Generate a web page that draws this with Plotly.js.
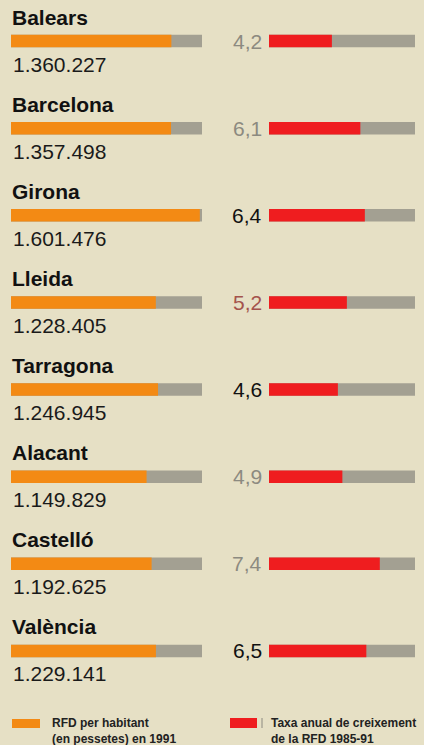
<!DOCTYPE html>
<html><head><meta charset="utf-8">
<script src="https://cdn.plot.ly/plotly-3.0.1.min.js"></script>
<style>html,body{margin:0;padding:0;background:#e6e0c5}</style>
</head><body><div id="chart" style="width:424px;height:745px"></div>
<script>
// ---- data ----
const regions = ["Balears","Barcelona","Girona","Lleida","Tarragona","Alacant","Castelló","València"];
const rfdPerHabitant = [1360227,1357498,1601476,1228405,1246945,1149829,1192625,1229141];
const rfdLabels = ["1.360.227","1.357.498","1.601.476","1.228.405","1.246.945","1.149.829","1.192.625","1.229.141"];
const growthRate = [4.2,6.1,6.4,5.2,4.6,4.9,7.4,6.5];
const growthLabels = ["4,2","6,1","6,4","5,2","4,6","4,9","7,4","6,5"];
const growthLabelColors = ["#8c8a80","#8c8a80","#111111","#a4534c","#111111","#8c8a80","#8c8a80","#111111"];
const rfdTrackMax = 1620000;
const growthTrackMax = 9.75;
const legendLabels = ["RFD per habitant<br>(en pessetes) en 1991","Taxa anual de creixement<br>de la RFD 1985-91"];

// ---- style ----
const W = 424, H = 745;
const BG = "#e6e0c5", ORANGE = "#f38a14", RED = "#ef1d1f", TRACK = "#a3a092";
const pitch = 87.14, firstCenter = 41;
const barW = 12.5 / pitch;
const idx = regions.map((_, i) => i);
const py = p => 1 - p / H;
const FONT = "Liberation Sans, Arial, sans-serif";

const traces = [
  {type:"bar", orientation:"h", x: regions.map(() => rfdTrackMax), y: idx, xaxis:"x", yaxis:"y",
   marker:{color:TRACK}, width:barW, hoverinfo:"skip"},
  {type:"bar", orientation:"h", x: rfdPerHabitant, y: idx, xaxis:"x", yaxis:"y",
   marker:{color:ORANGE}, width:barW, hoverinfo:"skip"},
  {type:"bar", orientation:"h", x: regions.map(() => growthTrackMax), y: idx, xaxis:"x2", yaxis:"y",
   marker:{color:TRACK}, width:barW, hoverinfo:"skip"},
  {type:"bar", orientation:"h", x: growthRate, y: idx, xaxis:"x2", yaxis:"y",
   marker:{color:RED}, width:barW, hoverinfo:"skip"}
];

const annotations = [];
regions.forEach((r, i) => {
  annotations.push({xref:"x", yref:"y", x:0, y:i - 24/pitch, text:r, showarrow:false,
    xanchor:"left", yanchor:"middle", xshift:-1,
    font:{family:FONT, size:21, color:"#111", weight:"bold"}});
  annotations.push({xref:"x", yref:"y", x:0, y:i + 23/pitch, text:rfdLabels[i], showarrow:false,
    xanchor:"left", yanchor:"middle", xshift:0,
    font:{family:FONT, size:21, color:"#1a1a1a"}});
  annotations.push({xref:"x2", yref:"y", x:0, y:i, text:growthLabels[i], showarrow:false,
    xanchor:"right", yanchor:"middle", xshift:-5,
    font:{family:FONT, size:21, color:growthLabelColors[i]}});
});
// legend texts
const legendX = [50, 269];
legendLabels.forEach((t, k) => {
  annotations.push({xref:"paper", yref:"paper", x:legendX[k]/W, y:py(731), text:t, showarrow:false,
    xanchor:"left", yanchor:"middle", align:"left",
    font:{family:FONT, size:12, color:"#222", weight:"bold"}});
});

const shapes = [
  {type:"rect", xref:"paper", yref:"paper", x0:12/W, x1:40/W, y0:py(728), y1:py(719), fillcolor:ORANGE, line:{width:0}},
  {type:"rect", xref:"paper", yref:"paper", x0:230/W, x1:257/W, y0:py(728), y1:py(718), fillcolor:RED, line:{width:0}},
  {type:"line", xref:"paper", yref:"paper", x0:262/W, x1:262/W, y0:py(728), y1:py(718), line:{color:"#8c8a80", width:1}}
];

const layout = {
  width: W, height: H, margin:{l:0,r:0,t:0,b:0,pad:0},
  paper_bgcolor: BG, plot_bgcolor: BG,
  barmode:"overlay", showlegend:false, hovermode:false,
  xaxis:{domain:[11/W, 202/W], range:[0, rfdTrackMax], visible:false, fixedrange:true},
  xaxis2:{domain:[269/W, 415/W], range:[0, growthTrackMax], visible:false, fixedrange:true, anchor:"y"},
  yaxis:{range:[(H - firstCenter)/pitch, -firstCenter/pitch], visible:false, fixedrange:true},
  annotations, shapes
};

Plotly.newPlot("chart", traces, layout, {staticPlot:true, displayModeBar:false});
</script></body></html>
